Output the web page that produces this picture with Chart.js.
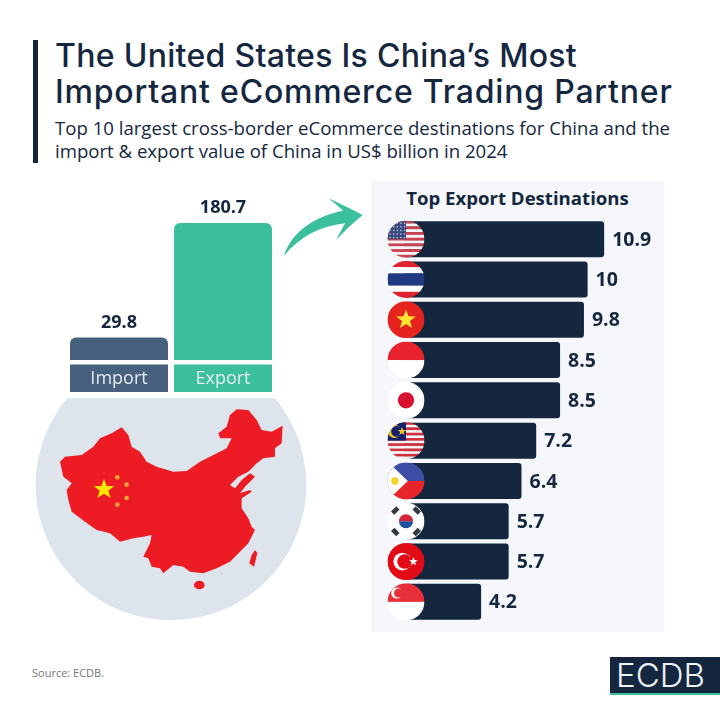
<!DOCTYPE html>
<html lang="en">
<head>
<meta charset="UTF-8">
<title>China eCommerce Trading Partner</title>
<script src="https://cdn.jsdelivr.net/npm/chart.js"></script>
<style>
  * { box-sizing: border-box; margin: 0; padding: 0; }
  body { width: 720px; height: 720px; background: #fff; position: relative; overflow: hidden; font-family: "Open Sans", sans-serif; color: #14273f; }
  .abs { position: absolute; white-space: nowrap; }
  #bar { left: 33px; top: 40px; width: 5px; height: 123px; background: #14273f; }
  #title { left: 55px; top: 38px; font-family: Inter, sans-serif; font-size: 32px; font-weight: 500; line-height: 36px; }
  #sub { left: 55px; top: 117px; font-size: 18.6px; line-height: 22.5px; }
  #panel { left: 371px; top: 181px; width: 293px; height: 451px; background: #f5f7fb; }
  #panelTitle { left: 371px; width: 293px; top: 185px; text-align: center; font-size: 18.6px; font-weight: 700; line-height: 25px; }
  #source { left: 32px; top: 665px; font-size: 11px; color: #777; }
  #logo { left: 610px; top: 657px; width: 110px; height: 36px; background: #14273f; color: #eef3f6; font-family: Inter, sans-serif; font-size: 33px; font-weight: 300; line-height: 36px; padding-left: 6px; }
  #logoLine { left: 610px; top: 693px; width: 110px; height: 2px; background: #3bbf9c; }
  canvas { position: absolute; }
  svg { position: absolute; left: 0; top: 190px; }
</style>
</head>
<body>
<div class="abs" id="bar"></div>
<div class="abs" id="title"><span style="letter-spacing:.3px">The United States Is China’s Most</span><br><span style="letter-spacing:.8px">Important eCommerce Trading Partner</span></div>
<div class="abs" id="sub">Top 10 largest cross-border eCommerce destinations for China and the<br>import &amp; export value of China in US$ billion in 2024</div>
<div class="abs" id="panel"></div>
<div class="abs" id="panelTitle">Top Export Destinations</div>

<svg width="370" height="440" viewBox="0 0 1110 1320">
  <path d="M201,625 H825 A406,406 0 1 1 201,625 Z" fill="#dde4ec"/>
  <path fill="#ed1c24" d="M180,815 195,800 245,795 280,770 300,745 335,730 365,712 385,735 395,770 420,785 440,815 470,830 520,845 560,843 600,815 640,795 680,775 695,745 660,745 655,730 680,710 690,675 710,658 745,660 770,690 785,720 815,725 848,707 845,760 825,775 825,800 790,805 770,820 745,845 715,860 690,885 705,895 725,870 750,850 765,860 735,890 720,910 750,900 755,905 725,925 725,955 745,985 755,1010 765,1020 745,1060 720,1085 690,1115 650,1135 610,1150 570,1145 550,1130 520,1125 490,1150 480,1135 455,1130 445,1105 430,1100 450,1060 455,1035 430,1040 400,1045 360,1055 330,1030 290,1020 255,995 215,965 205,930 200,900 215,880 190,860Z"/>
  <ellipse cx="598" cy="1185" rx="16" ry="13" fill="#ed1c24"/>
  <path fill="#ed1c24" d="M765,1080 772,1090 762,1130 748,1120 755,1095Z"/>
  <path fill="#ffe600" d="M312,866 320,888 343,888 325,902 332,924 312,911 292,924 299,902 281,888 304,888Z"/>
  <g fill="#f2a33a"><circle cx="352" cy="862" r="7"/><circle cx="380" cy="884" r="7"/><circle cx="380" cy="924" r="7"/><circle cx="352" cy="944" r="7"/></g>
  <path fill="#3bbf9c" d="M852,197 C875,125 945,78 1030,62 Q1010,45 985,25 Q1040,50 1088,75 Q1045,110 1008,150 Q1022,125 1035,100 C960,108 900,140 852,197Z"/>
</svg>

<canvas id="tradeChart" width="214" height="206" style="left:64px;top:190px;width:214px;height:206px"></canvas>
<canvas id="destChart" width="293" height="403" style="left:371px;top:219px;width:293px;height:403px"></canvas>

<div class="abs" id="source">Source: ECDB.</div>
<div class="abs" id="logo">ECDB</div>
<div class="abs" id="logoLine"></div>

<script>
const tradeLabels = ['Import', 'Export'];
const tradeValues = [29.8, 180.7];
const tradeColors = ['#47607e', '#3bbf9c'];

const countries = ['United States', 'Thailand', 'Vietnam', 'Indonesia', 'Japan', 'Malaysia', 'Philippines', 'South Korea', 'Turkey', 'Singapore'];
const exportValues = [10.9, 10, 9.8, 8.5, 8.5, 7.2, 6.4, 5.7, 5.7, 4.2];

const NAVY = '#14273f';

function star(ctx, x, y, r) {
  ctx.beginPath();
  for (let i = 0; i < 10; i++) {
    const a = -Math.PI / 2 + i * Math.PI / 5;
    const q = i % 2 ? r * 0.42 : r;
    ctx.lineTo(x + Math.cos(a) * q, y + Math.sin(a) * q);
  }
  ctx.closePath();
  ctx.fill();
}

function stripes(ctx, x, y, r, list) {
  const total = list.reduce((s, i) => s + i[1], 0);
  let top = y - r;
  list.forEach(i => {
    const h = i[1] / total * r * 2;
    ctx.fillStyle = i[0];
    ctx.fillRect(x - r, top, r * 2, h + 0.3);
    top += h;
  });
}

function crescent(ctx, x, y, r, cut, dx) {
  ctx.beginPath();
  ctx.arc(x, y, r, 0, Math.PI * 2);
  ctx.fill();
  const keep = ctx.fillStyle;
  ctx.fillStyle = cut;
  ctx.beginPath();
  ctx.arc(x + dx, y, r * 0.82, 0, Math.PI * 2);
  ctx.fill();
  ctx.fillStyle = keep;
}

const flags = {
  'United States': (c, x, y, r) => {
    const list = [];
    for (let i = 0; i < 13; i++) list.push([i % 2 ? '#f4f4f6' : '#c9424f', 1]);
    stripes(c, x, y, r, list);
    c.fillStyle = '#3d4a80';
    c.fillRect(x - r, y - r, r, r);
    c.fillStyle = '#dfe3f0';
    for (let i = 0; i < 5; i++) for (let j = 0; j < 5; j++) c.fillRect(x - r + 2 + i * 3.6, y - r + 2 + j * 3.6, 1.2, 1.2);
  },
  'Thailand': (c, x, y, r) => stripes(c, x, y, r, [['#e0222f', 1], ['#fff', 1], ['#1f3a80', 2], ['#fff', 1], ['#e0222f', 1]]),
  'Vietnam': (c, x, y, r) => {
    c.fillStyle = '#e5231f'; c.fillRect(x - r, y - r, r * 2, r * 2);
    c.fillStyle = '#ffe633'; star(c, x, y, r * 0.55);
  },
  'Indonesia': (c, x, y, r) => stripes(c, x, y, r, [['#e8222c', 1], ['#fff', 1]]),
  'Japan': (c, x, y, r) => {
    c.fillStyle = '#fff'; c.fillRect(x - r, y - r, r * 2, r * 2);
    c.fillStyle = '#d7102f'; c.beginPath(); c.arc(x, y, r * 0.44, 0, Math.PI * 2); c.fill();
  },
  'Malaysia': (c, x, y, r) => {
    const list = [];
    for (let i = 0; i < 14; i++) list.push([i % 2 ? '#f4f4f6' : '#d12f3c', 1]);
    stripes(c, x, y, r, list);
    c.fillStyle = '#14206b';
    c.fillRect(x - r, y - r, r, r);
    c.fillStyle = '#f5c518';
    crescent(c, x - r * 0.62, y - r * 0.5, r * 0.36, '#14206b', r * 0.12);
    star(c, x - r * 0.22, y - r * 0.5, r * 0.24);
  },
  'Philippines': (c, x, y, r) => {
    stripes(c, x, y, r, [['#3c4ea5', 1], ['#e8252b', 1]]);
    c.fillStyle = '#fff';
    c.beginPath(); c.moveTo(x - r, y - r * 1.05); c.lineTo(x + r * 0.1, y); c.lineTo(x - r, y + r * 1.05); c.closePath(); c.fill();
    c.fillStyle = '#f5d327'; c.beginPath(); c.arc(x - r * 0.6, y, r * 0.2, 0, Math.PI * 2); c.fill();
  },
  'South Korea': (c, x, y, r) => {
    c.fillStyle = '#fff'; c.fillRect(x - r, y - r, r * 2, r * 2);
    c.fillStyle = '#d3263a'; c.beginPath(); c.arc(x, y, r * 0.38, Math.PI, 0); c.fill();
    c.fillStyle = '#1d4f9e'; c.beginPath(); c.arc(x, y, r * 0.38, 0, Math.PI); c.fill();
    c.fillStyle = '#333a44';
    [[-1, -1], [1, -1], [-1, 1], [1, 1]].forEach(d => {
      c.save();
      c.translate(x + d[0] * r * 0.58, y + d[1] * r * 0.58);
      c.rotate(d[0] * d[1] * -Math.PI / 4);
      c.fillRect(-r * 0.2, -r * 0.13, r * 0.4, r * 0.26);
      c.restore();
    });
  },
  'Turkey': (c, x, y, r) => {
    c.fillStyle = '#e30a17'; c.fillRect(x - r, y - r, r * 2, r * 2);
    c.fillStyle = '#fff';
    crescent(c, x - r * 0.2, y, r * 0.48, '#e30a17', r * 0.12);
    star(c, x + r * 0.4, y, r * 0.24);
  },
  'Singapore': (c, x, y, r) => {
    stripes(c, x, y, r, [['#e8303a', 1], ['#fff', 1]]);
    c.fillStyle = '#fff';
    crescent(c, x - r * 0.5, y - r * 0.48, r * 0.3, '#e8303a', r * 0.1);
  }
};

const destPlugin = {
  id: 'destPlugin',
  afterDatasetsDraw(chart) {
    const ctx = chart.ctx;
    const meta = chart.getDatasetMeta(0);
    const zero = chart.scales.x.getPixelForValue(0);
    meta.data.forEach((bar, i) => {
      ctx.save();
      ctx.beginPath();
      ctx.arc(zero + 2, bar.y, 18.5, 0, Math.PI * 2);
      ctx.clip();
      flags[countries[i]](ctx, zero + 2, bar.y, 18.5);
      ctx.restore();
      ctx.fillStyle = NAVY;
      ctx.font = '700 19.5px "Open Sans"';
      ctx.textAlign = 'left';
      ctx.textBaseline = 'middle';
      ctx.fillText(String(exportValues[i]), bar.x + 8, bar.y + 1);
    });
  }
};

const tradePlugin = {
  id: 'tradePlugin',
  beforeDatasetsDraw(chart) {
    const ctx = chart.ctx;
    const bottom = chart.scales.y.bottom;
    chart.getDatasetMeta(0).data.forEach((bar, i) => {
      ctx.fillStyle = tradeColors[i];
      ctx.fillRect(bar.x - bar.width / 2, bottom + 4.5, bar.width, 27.5);
    });
    // tick labels have to sit on top of the boxes
    ctx.fillStyle = '#e4ecf1';
    ctx.font = '18px "Open Sans"';
    ctx.textAlign = 'center';
    ctx.textBaseline = 'middle';
    chart.getDatasetMeta(0).data.forEach((bar, i) => {
      ctx.fillText(tradeLabels[i], bar.x, bottom + 18.5);
    });
  },
  afterDatasetsDraw(chart) {
    const ctx = chart.ctx;
    ctx.fillStyle = NAVY;
    ctx.font = '700 18px "Open Sans"';
    ctx.textAlign = 'center';
    ctx.textBaseline = 'middle';
    chart.getDatasetMeta(0).data.forEach((bar, i) => {
      ctx.fillText(String(tradeValues[i]), bar.x, bar.y - 15);
    });
  }
};

new Chart(document.getElementById('tradeChart'), {
  type: 'bar',
  data: {
    labels: tradeLabels,
    datasets: [{
      data: tradeValues,
      backgroundColor: tradeColors,
      borderRadius: { topLeft: 6, topRight: 6 },
      borderSkipped: 'bottom',
      barPercentage: 0.942,
      categoryPercentage: 1
    }]
  },
  options: {
    responsive: false,
    animation: false,
    layout: { padding: { left: 3, right: 3 } },
    plugins: { legend: { display: false }, tooltip: { enabled: false } },
    scales: {
      x: {
        grid: { display: false },
        border: { display: false },
        ticks: { display: false },
        afterFit: s => { s.height = 36; }
      },
      y: { display: false, min: 0, max: 224.3 }
    }
  },
  plugins: [tradePlugin]
});

new Chart(document.getElementById('destChart'), {
  type: 'bar',
  data: {
    labels: countries,
    datasets: [{
      data: exportValues,
      backgroundColor: NAVY,
      borderRadius: 3,
      borderSkipped: false,
      barPercentage: 0.893,
      categoryPercentage: 1
    }]
  },
  options: {
    indexAxis: 'y',
    responsive: false,
    animation: false,
    layout: { padding: { left: 33 } },
    plugins: { legend: { display: false }, tooltip: { enabled: false } },
    scales: {
      x: { display: false, min: 0, max: 14.16 },
      y: { display: false }
    }
  },
  plugins: [destPlugin]
});
</script>
</body>
</html>
